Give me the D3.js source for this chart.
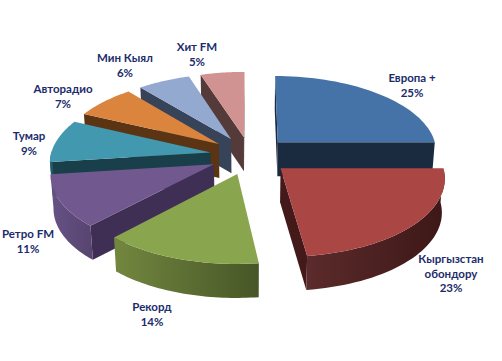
<!DOCTYPE html>
<html>
<head>
<meta charset="utf-8">
<script src="https://cdn.jsdelivr.net/npm/d3@7"></script>
<style>
html, body { margin: 0; padding: 0; background: #fff; }
svg { display: block; }
text { font-family: Lato, "Open Sans", sans-serif; font-weight: 700; font-size: 11.5px; fill: #1c2c6b; text-anchor: middle; }
</style>
</head>
<body>
<div id="chart"></div>
<script>
const categories = ["Европа +", "Кыргызстан обондору", "Рекорд", "Ретро FM", "Тумар", "Авторадио", "Мин Кыял", "Хит FM"];
const values = [25, 23, 14, 11, 9, 7, 6, 5];

const topColors = ["#4573a7", "#aa4644", "#89a54e", "#71588f", "#4198af", "#db843d", "#93a9cf", "#d19392"];
const sideColors = ["#1a2b40", "#43191a", "#485829", "#402f55", "#193f4b", "#5a3413", "#374358", "#553a3a"];
const rimFrom = ["#2a4565", "#5c2b2b", "#73873f", "#675285", "#2c6a7c", "#94592a", "#66768f", "#8f6565"];
const rimTo = ["#1a2b40", "#3d1717", "#465627", "#57446f", "#193f4b", "#5a3413", "#374358", "#553a3a"];

// label lines and where they sit
const labelLines = [["Европа +", "25%"], ["Кыргызстан", "обондору", "23%"], ["Рекорд", "14%"], ["Ретро FM", "11%"], ["Тумар", "9%"], ["Авторадио", "7%"], ["Мин Кыял", "6%"], ["Хит FM", "5%"]];
const labelAnchors = [[412, 82], [451, 263], [152, 311], [28, 238], [29, 140], [63, 93], [125, 62], [197, 51]];

// same painter order as the picture, back slices first
const drawOrder = [7, 6, 5, 4, 3, 2, 0, 1];

const width = 502, height = 361;
const cx = 250, cy = 155.5, rx = 160, ry = 76, persp = 0.107, depth = 34, explode = 0.25;

const svg = d3.select("#chart").append("svg").attr("width", width).attr("height", height);
const defs = svg.append("defs");

const arcs = d3.pie().sort(null).value(d => d)(values);

// pie plane -> screen, Y goes to the back of the picture
function project(X, Y, low) {
    const w = 1 / (1 + persp * Y);
    const sx = cx + X * rx * w * (low ? 0.985 : 1);
    const sy = cy - Y * ry * w + (low ? depth : 0);
    return [sx, sy];
}

function signedArea(pts) {
    return d3.sum(pts, (p, i) => {
        const q = pts[(i + 1) % pts.length];
        return p[0] * q[1] - q[0] * p[1];
    });
}

const line = d3.line();
const closed = pts => line(pts) + "Z";

drawOrder.forEach(i => {
    const d = arcs[i];
    const mid = (d.startAngle + d.endAngle) / 2;
    const ox = explode * Math.sin(mid), oy = explode * Math.cos(mid);
    const at = (a, low) => project(ox + Math.sin(a), oy + Math.cos(a), low);
    const apex = low => project(ox, oy, low);
    const g = svg.append("g").attr("class", "slice");

    const startFace = [apex(false), at(d.startAngle, false), at(d.startAngle, true), apex(true)];
    const endFace = [apex(false), at(d.endAngle, false), at(d.endAngle, true), apex(true)];
    if (signedArea(startFace) < 0) g.append("path").attr("d", closed(startFace)).attr("fill", sideColors[i]);
    if (signedArea(endFace) > 0) g.append("path").attr("d", closed(endFace)).attr("fill", sideColors[i]);

    const angles = d3.range(0, 41).map(k => d.startAngle + (d.endAngle - d.startAngle) * k / 40);
    const rimAngles = angles.filter(a => Math.cos(a) < 0.02);
    if (rimAngles.length > 1) {
        const rim = rimAngles.map(a => at(a, false)).concat(rimAngles.slice().reverse().map(a => at(a, true)));
        const gid = "rim" + i;
        const xs = d3.extent(rim, p => p[0]);
        const grad = defs.append("linearGradient").attr("id", gid).attr("gradientUnits", "userSpaceOnUse")
            .attr("x1", xs[0]).attr("x2", xs[1]).attr("y1", 0).attr("y2", 0);
        grad.append("stop").attr("offset", 0).attr("stop-color", rimFrom[i]);
        grad.append("stop").attr("offset", 1).attr("stop-color", rimTo[i]);
        g.append("path").attr("d", closed(rim)).attr("fill", `url(#${gid})`);
    }

    const top = [apex(false)].concat(angles.map(a => at(a, false)));
    g.append("path").attr("d", closed(top)).attr("fill", topColors[i]);
});

const labels = svg.append("g").selectAll("text").data(labelLines).join("text")
    .attr("transform", (d, i) => `translate(${labelAnchors[i][0]},${labelAnchors[i][1]})`);
labels.selectAll("tspan").data(d => d).join("tspan")
    .attr("x", 0).attr("y", (d, i) => i * 14.5).text(d => d);
</script>
</body>
</html>
